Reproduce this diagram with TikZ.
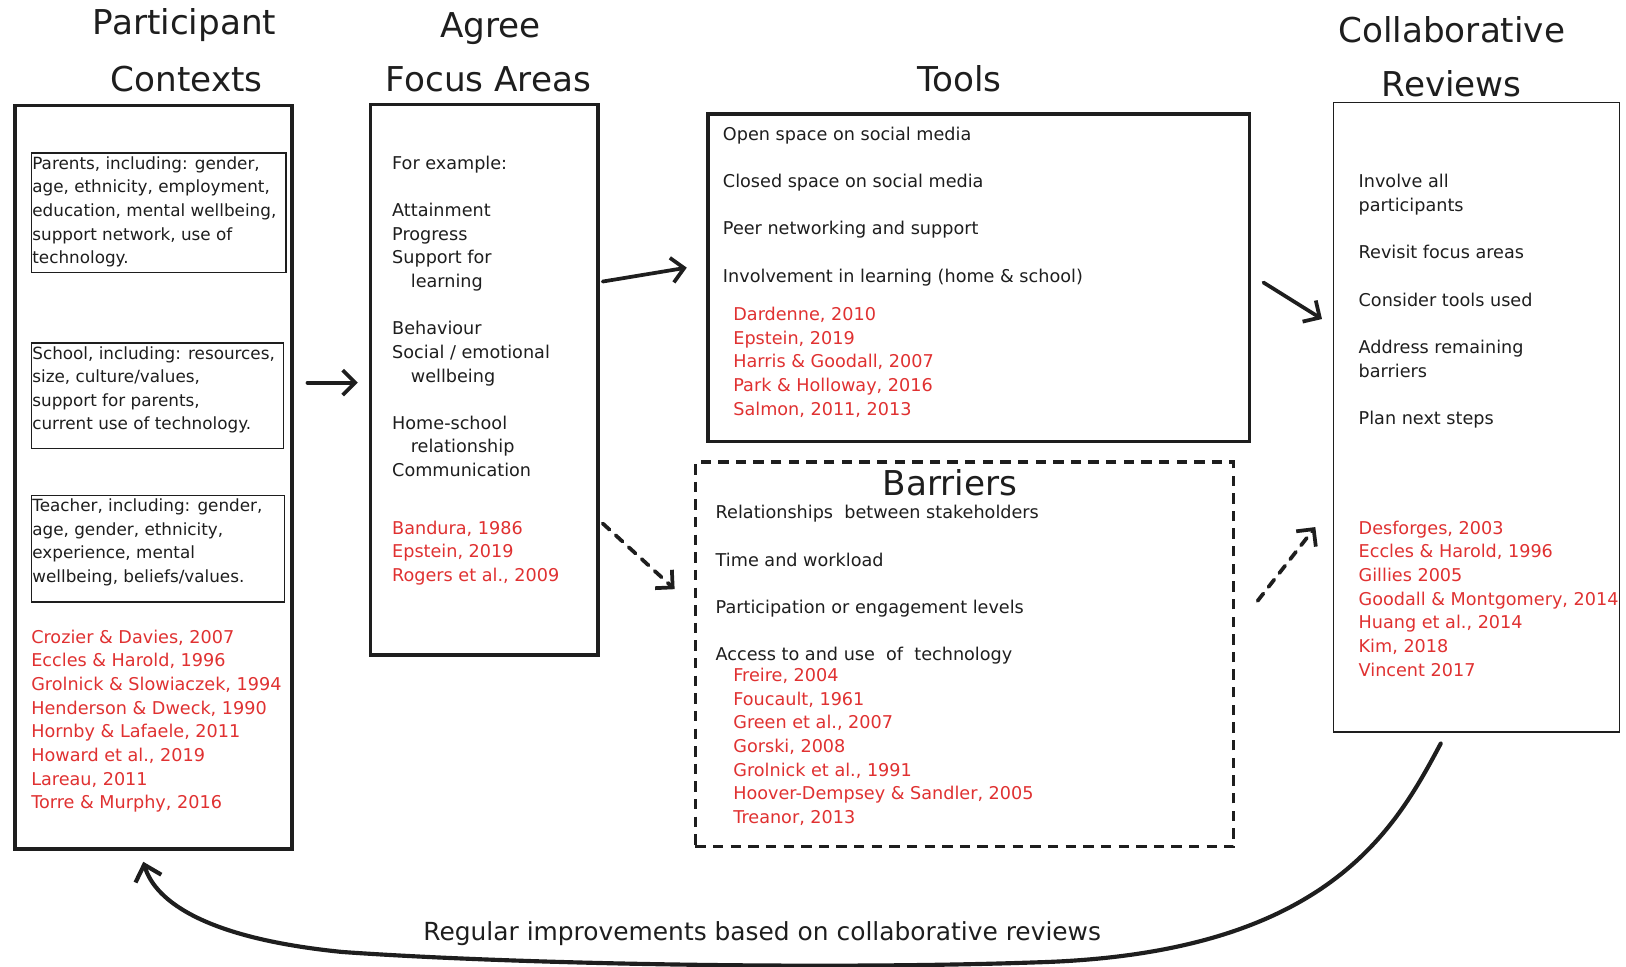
\documentclass[tikz,border=0pt]{standalone}
\usepackage{fontspec}
\setmainfont{DejaVu Sans}
\usetikzlibrary{arrows.meta}
\definecolor{ink}{HTML}{1E1E1E}
\definecolor{cite}{HTML}{E03131}
% fixes the height of the first line of every text block
\newcommand\fstr{\rule{0pt}{13.5pt}}

\begin{document}
\begin{tikzpicture}[x=1pt,y=-1pt,
  body/.style={anchor=north west, inner sep=0pt, align=left, text=ink,
    font=\fontsize{17}{22.8}\selectfont},
  inbox/.style={body, font=\fontsize{16.2}{22.8}\selectfont},
  refs/.style={body, text=cite},
  heading/.style={anchor=base, inner sep=0pt, text=ink,
    font=\fontsize{33}{40}\selectfont},
  boxline/.style={draw=ink, anchor=north west, inner sep=0pt, line width=#1},
  arr/.style={draw=ink, line width=3.6pt, line cap=round,
    -{Straight Barb[length=12pt,width=24pt]}},
  darr/.style={arr, dash pattern=on 9pt off 8pt},
  loop/.style={draw=ink, line width=4pt, line cap=round,
    -{Straight Barb[length=14pt,width=26pt]}}
]
\fill[white] (0,0) rectangle (1568,932);
\useasboundingbox (0,0) rectangle (1568,932);

% ---- headings
\node[heading] (ctxHeadA) at (178,33) {Participant};
\node[heading] (ctxHeadB) at (180,88) {Contexts};
\node[heading] (focHeadA) at (473,36) {Agree};
\node[heading] (focHeadB) at (471,88) {Focus Areas};
\node[heading] (toolHead) at (925,88) {Tools};
\node[heading] (revHeadA) at (1400,41) {Collaborative};
\node[heading] (revHeadB) at (1400,93) {Reviews};

% ---- participant contexts
\node[boxline=3.5pt, minimum width=267pt, minimum height=717pt] (ctxbox) at (13,100) {};
\node[boxline=1.3pt, minimum width=245pt, minimum height=115pt] (parentsBox) at (30,147) {};
\node[boxline=1.3pt, minimum width=243pt, minimum height=102pt] (schoolBox) at (30,330) {};
\node[boxline=1.3pt, minimum width=244pt, minimum height=103pt] (teacherBox) at (30,477) {};
\node[inbox] (parentsTxt) at (31,149.5) {\fstr Parents, including: gender,\\age, ethnicity, employment,\\education, mental wellbeing,\\support network, use of\\technology.};
\node[inbox] (schoolTxt) at (31,332.5) {\fstr School, including: resources,\\size, culture/values,\\support for parents,\\current use of technology.};
\node[inbox] (teacherTxt) at (31,479.5) {\fstr Teacher, including: gender,\\age, gender, ethnicity,\\experience, mental\\wellbeing, beliefs/values.};
\node[refs] (ctxRefs) at (30,606.5) {\fstr Crozier \& Davies, 2007\\Eccles \& Harold, 1996\\Grolnick \& Slowiaczek, 1994\\Henderson \& Dweck, 1990\\Hornby \& Lafaele, 2011\\Howard et al., 2019\\Lareau, 2011\\Torre \& Murphy, 2016};

% ---- focus areas
\node[boxline=3.2pt, minimum width=219pt, minimum height=531pt] (focusbox) at (356,99) {};
\node[body] (focusTxt) at (378,149.5) {\fstr For example:\\[22.8pt]Attainment\\Progress\\Support for\\\hspace*{18pt}learning\\[22.8pt]Behaviour\\Social / emotional\\\hspace*{18pt}wellbeing\\[22.8pt]Home-school\\\hspace*{18pt}relationship\\Communication};
\node[refs] (focusRefs) at (378,501.5) {\fstr Bandura, 1986\\Epstein, 2019\\Rogers et al., 2009};

% ---- tools
\node[boxline=3.5pt, minimum width=522pt, minimum height=316pt] (toolsbox) at (681,108) {};
\node[body] (toolsTxt) at (697,121.5) {\fstr Open space on social media\\[22.8pt]Closed space on social media\\[22.8pt]Peer networking and support\\[22.8pt]Involvement in learning (home \& school)};
\node[refs] (toolsRefs) at (707,295.5) {\fstr Dardenne, 2010\\Epstein, 2019\\Harris \& Goodall, 2007\\Park \& Holloway, 2016\\Salmon, 2011, 2013};

% ---- barriers
\node[boxline=3.2pt, dash pattern=on 10pt off 7pt, minimum width=519pt, minimum height=371pt] (barrbox) at (669,444) {};
\node[heading] (barrHead) at (916,478) {Barriers};
\node[body] (barrTxt) at (690,486.5) {\fstr Relationships\ \ between stakeholders\\[22.8pt]Time and workload\\[22.8pt]Participation or engagement levels\\[22.8pt]Access to and use\ \ of\ \ technology};
\node[refs] (barrRefs) at (707,643.5) {\fstr Freire, 2004\\Foucault, 1961\\Green et al., 2007\\Gorski, 2008\\Grolnick et al., 1991\\Hoover-Dempsey \& Sandler, 2005\\Treanor, 2013};

% ---- collaborative reviews
\node[boxline=1.4pt, minimum width=276pt, minimum height=607pt] (revbox) at (1285,98) {};
\node[body] (revTxt) at (1310,167.5) {\fstr Involve all\\participants\\[22.8pt]Revisit focus areas\\[22.8pt]Consider tools used\\[22.8pt]Address remaining\\barriers\\[22.8pt]Plan next steps};
\node[refs] (revRefs) at (1310,501.5) {\fstr Desforges, 2003\\Eccles \& Harold, 1996\\Gillies 2005\\Goodall \& Montgomery, 2014\\Huang et al., 2014\\Kim, 2018\\Vincent 2017};

% ---- connectors
\draw[arr, shorten <=13pt, shorten >=11pt] (ctxbox.east |- 0,369) -- (focusbox.west |- 0,369);
\draw[arr, shorten <=3pt, shorten >=19pt] (focusbox.east |- 0,272) -- (toolsbox.west |- 0,255);
\draw[darr, shorten <=4pt, shorten >=25pt] (focusbox.east |- 0,502) -- (barrbox.west |- 0,585);
\draw[arr, shorten <=14pt, shorten >=12pt] (toolsbox.east |- 0,265) -- (revbox.west |- 0,314);
\draw[darr, shorten <=35pt, shorten >=27pt] (barrbox.east |- 0,607) -- (revbox.west |- 0,487);

% ---- feedback loop along the bottom
\draw[loop, shorten <=12pt, shorten >=11pt] (revbox.south -| 1395,0)
  .. controls (1345,800) and (1280,920) .. (1000,928)
  .. controls (800,935) and (500,930) .. (330,918)
  .. controls (200,905) and (150,870) .. (ctxbox.south -| 135,0);
\node[inner sep=0pt, text=ink, font=\fontsize{24}{28}\selectfont] (loopLbl) at (735,900) {Regular improvements based on collaborative reviews};
\end{tikzpicture}
\end{document}
